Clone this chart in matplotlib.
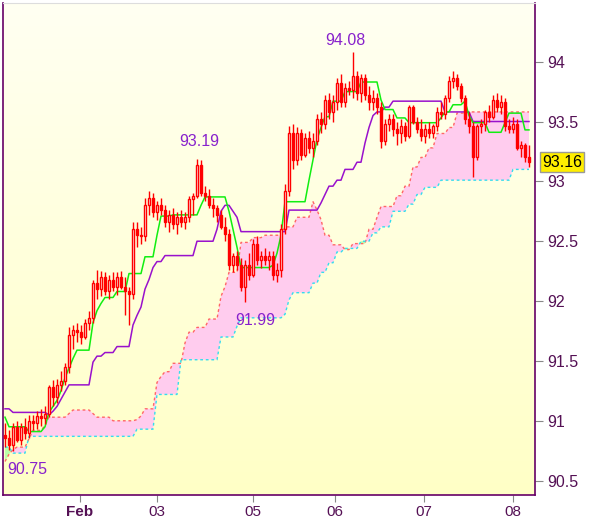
import matplotlib
matplotlib.use("Agg")
import matplotlib.pyplot as plt
import numpy as np
from matplotlib.patches import Rectangle
from matplotlib.colors import LinearSegmentedColormap

opens = [90.88,90.86,90.80,90.95,90.84,90.95,90.90,91.00,90.98,91.04,91.02,91.06,91.28,91.20,91.30,91.33,91.45,91.72,91.76,91.74,
91.70,91.82,91.86,92.15,92.10,92.20,92.08,92.18,92.12,92.20,92.12,92.08,92.06,92.60,92.55,92.54,92.80,92.86,92.74,92.80,
92.76,92.66,92.72,92.64,92.70,92.66,92.70,92.85,92.88,93.14,92.90,92.88,92.80,92.78,92.72,92.62,92.56,92.30,92.38,92.30,
92.12,92.30,92.22,92.48,92.34,92.38,92.34,92.38,92.22,92.26,92.60,92.92,93.40,93.18,93.40,93.22,93.36,93.28,93.34,93.52,
93.48,93.68,93.58,93.66,93.82,93.66,93.78,93.76,93.88,93.74,93.86,93.72,93.66,93.70,93.62,93.34,93.48,93.52,93.44,93.40,
93.46,93.38,93.62,93.50,93.44,93.38,93.44,93.40,93.46,93.58,93.56,93.70,93.84,93.86,93.80,93.70,93.52,93.46,93.20,93.46,
93.48,93.58,93.54,93.68,93.62,93.66,93.46,93.44,93.48,93.28,93.30,93.20]
highs = [90.98,90.92,90.98,91.00,90.98,91.02,91.05,91.05,91.08,91.10,91.12,91.30,91.34,91.35,91.42,91.48,91.78,91.80,91.82,91.80,
91.85,91.92,92.18,92.26,92.25,92.24,92.22,92.24,92.24,92.25,92.20,92.12,92.66,92.66,92.62,92.86,92.92,92.90,92.84,92.86,
92.80,92.76,92.78,92.74,92.76,92.74,92.88,92.90,93.19,93.18,92.96,92.94,92.86,92.80,92.76,92.70,92.60,92.40,92.42,92.36,
92.34,92.40,92.52,92.54,92.42,92.44,92.42,92.42,92.32,92.64,92.98,93.46,93.48,93.45,93.44,93.40,93.42,93.40,93.56,93.58,
93.72,93.74,93.72,93.86,93.90,93.82,93.84,94.08,93.92,93.90,93.90,93.80,93.76,93.74,93.66,93.52,93.56,93.56,93.50,93.52,
93.50,93.64,93.64,93.54,93.52,93.48,93.50,93.48,93.62,93.66,93.72,93.88,93.92,93.90,93.82,93.72,93.58,93.50,93.48,93.52,
93.60,93.64,93.72,93.74,93.72,93.70,93.52,93.54,93.52,93.34,93.32,93.30]
lows = [90.78,90.76,90.75,90.82,90.80,90.85,90.86,90.92,90.93,90.96,90.97,91.03,91.12,91.15,91.25,91.30,91.40,91.60,91.66,91.64,
91.68,91.76,91.82,92.02,92.04,92.05,92.02,92.08,92.05,92.10,91.88,91.80,92.02,92.45,92.48,92.50,92.72,92.70,92.68,92.72,
92.62,92.58,92.60,92.56,92.62,92.60,92.66,92.72,92.86,92.88,92.84,92.78,92.70,92.66,92.60,92.50,92.26,92.24,92.26,92.08,
91.99,92.18,92.20,92.30,92.28,92.30,92.26,92.18,92.16,92.20,92.56,92.88,93.10,93.14,93.18,93.20,93.24,93.20,93.30,93.40,
93.44,93.52,93.50,93.60,93.62,93.62,93.72,93.70,93.68,93.66,93.68,93.60,93.60,93.56,93.28,93.30,93.42,93.38,93.30,93.32,
93.34,93.36,93.48,93.40,93.34,93.32,93.36,93.36,93.42,93.52,93.52,93.66,93.78,93.76,93.66,93.48,93.40,93.04,93.18,93.40,
93.42,93.50,93.52,93.58,93.56,93.42,93.40,93.40,93.26,93.20,93.16,93.12]
closes = opens[1:] + [93.16]

tenkan_runs = [(91.03,1),(90.95,5),(90.91,4),(90.95,1),(91.07,1),(91.12,1),(91.17,1),(91.25,1),(91.36,1),(91.44,1),(91.52,1),
(91.59,4),(91.82,1),(91.92,1),(91.98,1),(92.03,3),(92.08,3),(92.23,4),(92.37,3),(92.55,1),(92.71,3),(92.72,7),(92.80,1),
(92.87,6),(92.75,1),(92.60,1),(92.45,1),(92.28,8),(92.30,1),(92.40,1),(92.55,1),(92.83,6),(93.01,1),(93.18,1),(93.35,1),
(93.45,1),(93.54,2),(93.67,3),(93.75,4),(93.83,5),(93.68,1),(93.60,3),(93.53,3),(93.49,8),(93.53,1),(93.58,2),(93.64,3),
(93.67,1),(93.55,1),(93.49,4),(93.41,4),(93.49,1),(93.57,4),(93.43,2)]
kijun_runs = [(91.10,2),(91.07,9),(91.05,1),(91.08,1),(91.12,1),(91.18,1),(91.24,1),(91.30,6),(91.49,1),(91.54,2),(91.57,3),
(91.62,4),(91.80,1),(91.88,1),(91.95,1),(92.10,1),(92.18,1),(92.28,1),(92.33,2),(92.38,8),(92.50,5),(92.60,1),(92.75,1),
(92.80,2),(92.75,1),(92.70,1),(92.58,12),(92.76,8),(92.82,1),(92.89,1),(92.96,2),(93.01,2),(93.10,3),(93.16,2),(93.32,1),
(93.45,1),(93.55,1),(93.58,2),(93.62,2),(93.67,13),(93.58,7),(93.50,15)]
spanA_runs = [(90.66,1),(90.72,1),(90.76,1),(90.78,3),(90.85,1),(90.92,3),(90.96,1),(91.03,5),(91.06,1),(91.09,5),(91.06,1),
(91.03,4),(91.00,6),(91.01,1),(91.04,1),(91.10,3),(91.32,1),(91.37,1),(91.41,2),(91.48,3),(91.65,1),(91.74,2),(91.78,3),
(91.85,3),(92.04,1),(92.12,1),(92.24,3),(92.49,3),(92.53,3),(92.55,5),(92.62,3),(92.70,4),(92.83,1),(92.76,1),(92.68,1),
(92.55,2),(92.47,3),(92.43,2),(92.48,4),(92.60,2),(92.70,1),(92.79,4),(92.88,2),(92.96,2),(93.12,2),(93.20,2),(93.28,2),
(93.40,3),(93.45,2),(93.57,3),(93.58,4),(93.58,12)]
spanB_runs = [(90.78,2),(90.73,4),(90.87,27),(90.93,5),(91.22,6),(91.51,10),(91.70,4),(91.79,1),(91.86,11),(91.89,1),(92.01,1),
(92.07,5),(92.15,2),(92.24,2),(92.32,2),(92.41,2),(92.44,4),(92.50,3),(92.57,2),(92.62,3),(92.75,4),(92.81,2),(92.89,2),
(92.95,4),(93.01,18),(93.10,5)]

tick_pos = [18.75, 38, 62, 82.5, 104.75, 127]
tick_lab = ["Feb", "03", "05", "06", "07", "08"]
y_ticks = [90.5, 91, 91.5, 92, 92.5, 93, 93.5, 94]
y_labels = ["90.5", "91", "91.5", "92", "92.5", "93", "93.5", "94"]
annots = [("94.08", 85, 94.18), ("93.19", 48.5, 93.33), ("91.99", 62.5, 91.84), ("90.75", 5.5, 90.59)]
last_price = "93.16"

def expand(runs):
    out = []
    for v, k in runs:
        out += [v] * k
    return np.array(out)

tenkan = expand(tenkan_runs); kijun = expand(kijun_runs)
spanA = expand(spanA_runs); spanB = expand(spanB_runs)
n = len(closes)
x = np.arange(n)

plt.rcParams['font.family'] = ['Liberation Sans', 'DejaVu Sans']
fig = plt.figure(figsize=(6.0, 5.19), dpi=100)
ax = fig.add_axes([3/600, 1 - 495/519, 532/600, 492/519])
ymin, ymax = 90.38, 94.49
ax.set_xlim(-0.5, 132.5)
ax.set_ylim(ymin, ymax)

grad = np.linspace(0, 1, 256).reshape(-1, 1)
cm = LinearSegmentedColormap.from_list("bg", ["#ffffc6", "#fffff2"])
ax.imshow(grad, aspect='auto', cmap=cm, origin='lower',
          extent=[-0.5, 132.5, ymin, ymax], zorder=0)

ax.fill_between(x, spanA, spanB, where=spanA >= spanB, interpolate=True, color="#ffccee", lw=0, zorder=1)
ax.fill_between(x, spanA, spanB, where=spanA < spanB, interpolate=True, color="#bbffaa", lw=0, zorder=1)
ax.plot(x, spanA, color="#ff6666", lw=1, ls=(0, (2, 2)), zorder=2)
ax.plot(x, spanB, color="#33ddee", lw=1, ls=(0, (2, 2)), zorder=2)
ax.plot(x, kijun, color="#9911cc", lw=1.1, zorder=3)
ax.plot(x, tenkan, color="#11ee11", lw=1.1, zorder=3)

w = 0.55
for i in range(n):
    o, h, l, c = opens[i], highs[i], lows[i], closes[i]
    ax.vlines(i, l, h, color="#ff0000", lw=1, zorder=4)
    lo, hi = min(o, c), max(o, c)
    face = "#ff0000" if c < o else "#ffffff"
    ax.add_patch(Rectangle((i - w/2, lo), w, max(hi - lo, 0.004), facecolor=face,
                           edgecolor="#ff0000", lw=1, zorder=5))

for t, xi, yi in annots:
    ax.text(xi, yi, t, color="#8822cc", fontsize=11.5, ha='center', va='center', zorder=6)

ax.yaxis.tick_right()
ax.set_yticks(y_ticks)
ax.set_yticklabels(y_labels)
ax.set_xticks(tick_pos)
ax.set_xticklabels(tick_lab)
ax.tick_params(axis='y', colors="#888888", labelcolor="#551155", labelsize=11.5, length=6, direction='out', pad=3)
ax.tick_params(axis='x', colors="#888888", labelcolor="#551155", labelsize=11, length=5, direction='out', pad=2)
ax.get_xticklabels()[0].set_fontweight('bold')
for s in ['left', 'bottom', 'right']:
    ax.spines[s].set_color("#660066")
    ax.spines[s].set_linewidth(1.2)
ax.spines['top'].set_color("#dddddd")

ax.text(1.0 + 7/532, 93.16, last_price, transform=ax.get_yaxis_transform(), fontsize=11.5,
        color="#000000", va='center', ha='left', zorder=7,
        bbox=dict(boxstyle='square,pad=0.15', facecolor="#ffee00", edgecolor="#999999", lw=1))

fig.savefig("out.png", dpi=100)
